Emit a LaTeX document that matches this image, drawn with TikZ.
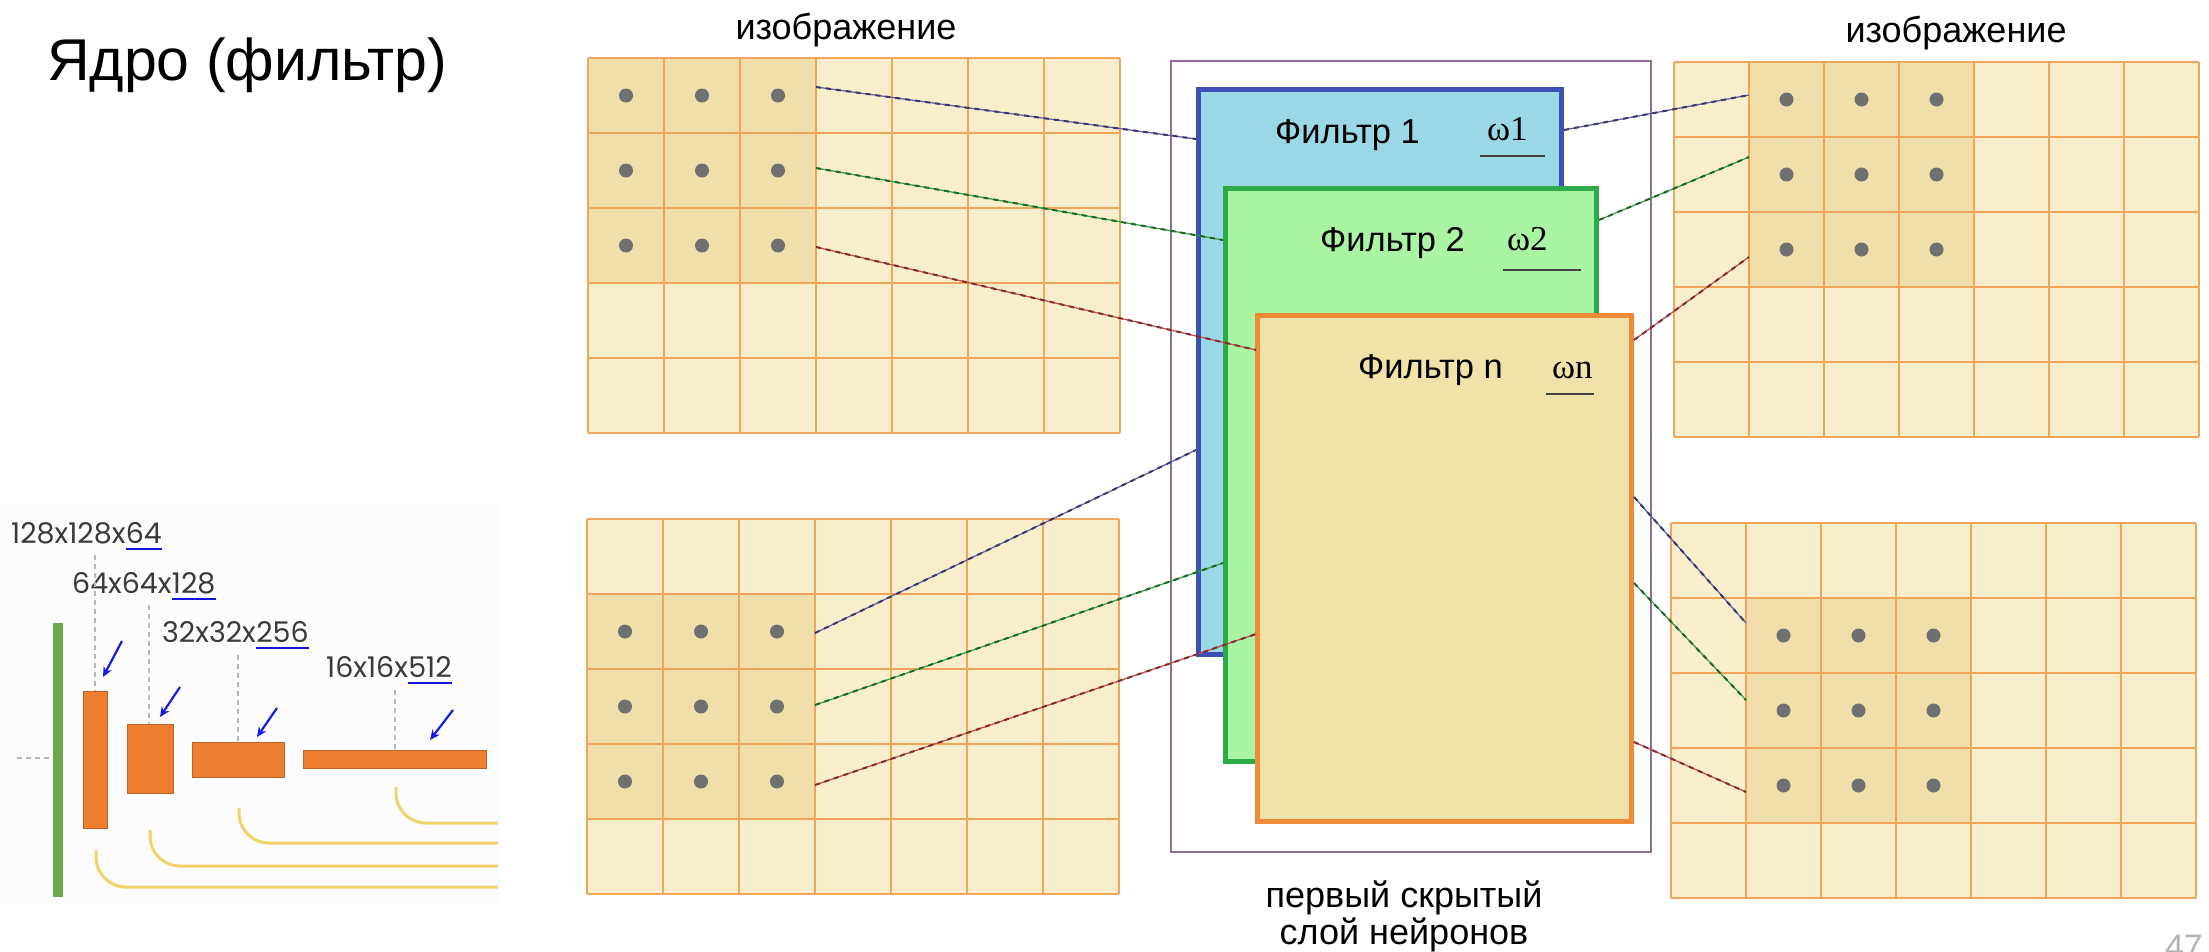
\documentclass[tikz,border=0pt]{standalone}
\usepackage{fontspec}
\setmainfont{Liberation Sans}
\newfontfamily\omegafont{Liberation Serif}
\newfontfamily\dimfont{Poppins}
\usetikzlibrary{arrows.meta}

% palette
\definecolor{cellfill}{HTML}{F8EECB}
\definecolor{cellhi}{HTML}{F0DFAA}
\definecolor{gridorange}{HTML}{F0A55C}
\definecolor{dotgray}{HTML}{707070}
\definecolor{outerpurple}{HTML}{8F6C9E}
\definecolor{fonefill}{HTML}{9AD8E6}
\definecolor{foneline}{HTML}{3F4FB8}
\definecolor{ftwofill}{HTML}{A9F5A3}
\definecolor{ftwoline}{HTML}{2DAA4A}
\definecolor{fnfill}{HTML}{F1E2AA}
\definecolor{fnline}{HTML}{EE8A38}
\definecolor{lnblue}{HTML}{5A5AA0}
\definecolor{lngreen}{HTML}{2E9E3E}
\definecolor{lnred}{HTML}{C04848}
\definecolor{dimgray}{HTML}{3A3A3A}
\definecolor{ulblue}{HTML}{1414E0}
\definecolor{guidegray}{HTML}{B8B8B8}
\definecolor{barorange}{HTML}{ED7D31}
\definecolor{bargreen}{HTML}{6AA84F}
\definecolor{skipyellow}{HTML}{F2D36B}
\definecolor{arrowblue}{HTML}{1A1AE6}
\definecolor{panelbg}{HTML}{FCFCFC}
\definecolor{pagenum}{HTML}{B4B4B4}

% one 7x5 image grid with a highlighted 3x3 window and its sample points
% #1 name, #2 left, #3 top, #4 cell width, #5 window column, #6 window row
\newcommand\imagegrid[6]{%
  \fill[cellfill] (#2,#3) rectangle ++({7*#4},375);
  \fill[cellhi] ({#2+#5*#4},{#3+#6*75}) rectangle ++({3*#4},225);
  \foreach \i in {0,...,7} \draw[gridline] ({#2+\i*#4},#3) -- ++(0,375);
  \foreach \j in {0,...,5} \draw[gridline] (#2,{#3+\j*75}) -- ++({7*#4},0);
  \foreach \i in {0,1,2} \foreach \j in {0,1,2}
    \fill[dotgray] ({#2+(#5+\i+0.5)*#4},{#3+(#6+\j+0.5)*75}) circle (7);
  \coordinate (#1) at (#2,#3);
}

\tikzset{
  gridline/.style={draw=gridorange, line width=1.6pt},
  fbox/.style={rectangle, anchor=north west, line width=5pt, inner sep=0pt, outer sep=0pt},
  flabel/.style={font=\fontsize{34.5}{40}\selectfont, anchor=base west, inner sep=0pt},
  wlabel/.style={font=\omegafont\fontsize{35}{40}\selectfont, anchor=base west, inner sep=0pt},
  wline/.style={line width=2.6pt, draw=black!75},
  caption/.style={font=\fontsize{36}{42}\selectfont, inner sep=0pt, anchor=base},
  linkblue/.style={draw=lnblue, line width=1.2pt,
    postaction={draw=lnblue!65!black, line width=2pt, dash pattern=on 5pt off 5pt}},
  linkgreen/.style={draw=lngreen, line width=1.2pt,
    postaction={draw=lngreen!65!black, line width=2pt, dash pattern=on 5pt off 5pt}},
  linkred/.style={draw=lnred, line width=1.2pt,
    postaction={draw=lnred!65!black, line width=2pt, dash pattern=on 5pt off 5pt}},
  dimtxt/.style={font=\dimfont\fontsize{28.5}{32}\selectfont, text=dimgray, inner sep=0pt, anchor=base west},
  dimul/.style={draw=ulblue, line width=2.5pt},
  guide/.style={draw=guidegray, line width=1.2pt, dash pattern=on 5pt off 4pt},
  layerbar/.style={fill=barorange, draw=barorange!80!black, line width=0.8pt},
  skip/.style={draw=skipyellow, line width=3pt, rounded corners=30pt},
  pointer/.style={draw=arrowblue, line width=2.2pt, -{Stealth[length=10pt,width=9pt]}},
}

\begin{document}
\begin{tikzpicture}[x=1pt,y=-1pt]
\useasboundingbox (0,0) rectangle (2209,951);
\fill[white] (0,0) rectangle (2209,951);

% ---------- left: encoder sketch ----------
\fill[panelbg] (0,505) rectangle (500,905);
\node[font=\fontsize{59}{66}\selectfont, anchor=base west, inner sep=0pt] (title) at (47,80) {Ядро (фильтр)};

\node[dimtxt] (da1) at (11,543) {128x128x};
\node[dimtxt] (db1) at (da1.base east) {64};
\node[dimtxt] (da2) at (72,593) {64x64x};
\node[dimtxt] (db2) at (da2.base east) {128};
\node[dimtxt] (da3) at (162,642) {32x32x};
\node[dimtxt] (db3) at (da3.base east) {256};
\node[dimtxt] (da4) at (326,677) {16x16x};
\node[dimtxt] (db4) at (da4.base east) {512};
\foreach \k in {1,2,3,4}
  \draw[dimul] ([yshift=-6pt]db\k.base west) -- ([yshift=-6pt]db\k.base east);

\fill[bargreen] (53,623) rectangle (63,897);
\node[layerbar, anchor=north west, minimum width=24pt, minimum height=137pt, inner sep=0pt] (l1) at (83,691) {};
\node[layerbar, anchor=north west, minimum width=46pt, minimum height=69pt, inner sep=0pt] (l2) at (127,724) {};
\node[layerbar, anchor=north west, minimum width=92pt, minimum height=35pt, inner sep=0pt] (l3) at (192,742) {};
\node[layerbar, anchor=north west, minimum width=183pt, minimum height=18pt, inner sep=0pt] (l4) at (303,750) {};

\coordinate (g0) at (17,758);
\draw[guide] (g0) -- (53,758);
\coordinate (g1) at (95,555);
\coordinate (g2) at (149,605);
\coordinate (g3) at (238,655);
\coordinate (g4) at (395,690);
\draw[guide] (g1) -- (g1 |- l1.north);
\draw[guide] (g2) -- (g2 |- l2.north);
\draw[guide] (g3) -- (g3 |- l3.north);
\draw[guide] (g4) -- (g4 |- l4.north);

\draw[pointer] (122,641) -- (103,677);
\draw[pointer] (180,687) -- (160,717);
\draw[pointer] (277,708) -- (257,737);
\draw[pointer] (453,710) -- (430,740);

\draw[skip] (96,850) |- (498,887);
\draw[skip] (150,830) |- (498,866);
\draw[skip] (239,808) |- (498,843);
\draw[skip] (396,787) |- (498,823);

% ---------- image grids ----------
\imagegrid{gTL}{588}{58}{76}{0}{0}
\imagegrid{gTR}{1674}{62}{75}{1}{0}
\imagegrid{gBL}{587}{519}{76}{0}{1}
\imagegrid{gBR}{1671}{523}{75}{1}{1}

\node[caption] (capL) at (846,39) {изображение};
\node[caption] (capR) at (1956,42) {изображение};

% ---------- first hidden layer ----------
\node[rectangle, draw=outerpurple, line width=2pt, anchor=north west, inner sep=0pt,
      minimum width=480pt, minimum height=791pt] (layer) at (1170,60) {};
\node[fbox, draw=foneline, fill=fonefill, minimum width=363pt, minimum height=565pt] (f1) at (1198.5,89.5) {};
\node[fbox, draw=ftwoline, fill=ftwofill, minimum width=371pt, minimum height=573pt] (f2) at (1225.5,188.5) {};
\node[fbox, draw=fnline, fill=fnfill, minimum width=374pt, minimum height=506pt] (fn) at (1257.5,315.5) {};

% connectors: input windows -> filters
\coordinate (tl1) at (816,87);   \coordinate (f1a) at (1196,139);
\coordinate (tl2) at (816,168);  \coordinate (f2a) at (1223,240);
\coordinate (tl3) at (816,247);  \coordinate (fna) at (1256,350);
\draw[linkblue]  (tl1) -- (f1a);
\draw[linkgreen] (tl2) -- (f2a);
\draw[linkred]   (tl3) -- (fna);

\coordinate (bl1) at (815,633);  \coordinate (f1b) at (1196,450);
\coordinate (bl2) at (815,705);  \coordinate (f2b) at (1223,563);
\coordinate (bl3) at (815,785);  \coordinate (fnb) at (1256,634);
\draw[linkblue]  (bl1) -- (f1b);
\draw[linkgreen] (bl2) -- (f2b);
\draw[linkred]   (bl3) -- (fnb);

% connectors: filters -> output windows
\coordinate (f1c) at (1564,130); \coordinate (tr1) at (1749,95);
\coordinate (f2c) at (1599,220); \coordinate (tr2) at (1749,157);
\coordinate (fnc) at (1634,340); \coordinate (tr3) at (1749,257);
\draw[linkblue]  (f1c) -- (tr1);
\draw[linkgreen] (f2c) -- (tr2);
\draw[linkred]   (fnc) -- (tr3);

\coordinate (fnd1) at (1634,497); \coordinate (br1) at (1746,623);
\coordinate (fnd2) at (1634,583); \coordinate (br2) at (1746,700);
\coordinate (fnd3) at (1634,742); \coordinate (br3) at (1746,792);
\draw[linkblue]  (fnd1) -- (br1);
\draw[linkgreen] (fnd2) -- (br2);
\draw[linkred]   (fnd3) -- (br3);

% filter captions and weights
\node[flabel] (t1) at (1275,143) {Фильтр 1};
\node[wlabel] (w1) at (1487,140) {ω1};
\draw[wline] (1480,156) -- (1545,156);
\node[flabel] (t2) at (1320,251) {Фильтр 2};
\node[wlabel] (w2) at (1507,250) {ω2};
\draw[wline] (1503,270) -- (1581,270);
\node[flabel] (tn) at (1358,378) {Фильтр n};
\node[wlabel] (wn) at (1552,378) {ωn};
\draw[wline] (1546,394) -- (1594,394);

\node[caption] (hid1) at (1404,907) {первый скрытый};
\node[caption] (hid2) at (1404,944) {слой нейронов};

\node[font=\fontsize{34}{40}\selectfont, text=pagenum, anchor=base east, inner sep=0pt] (pg) at (2203,958) {47};
\end{tikzpicture}
\end{document}
